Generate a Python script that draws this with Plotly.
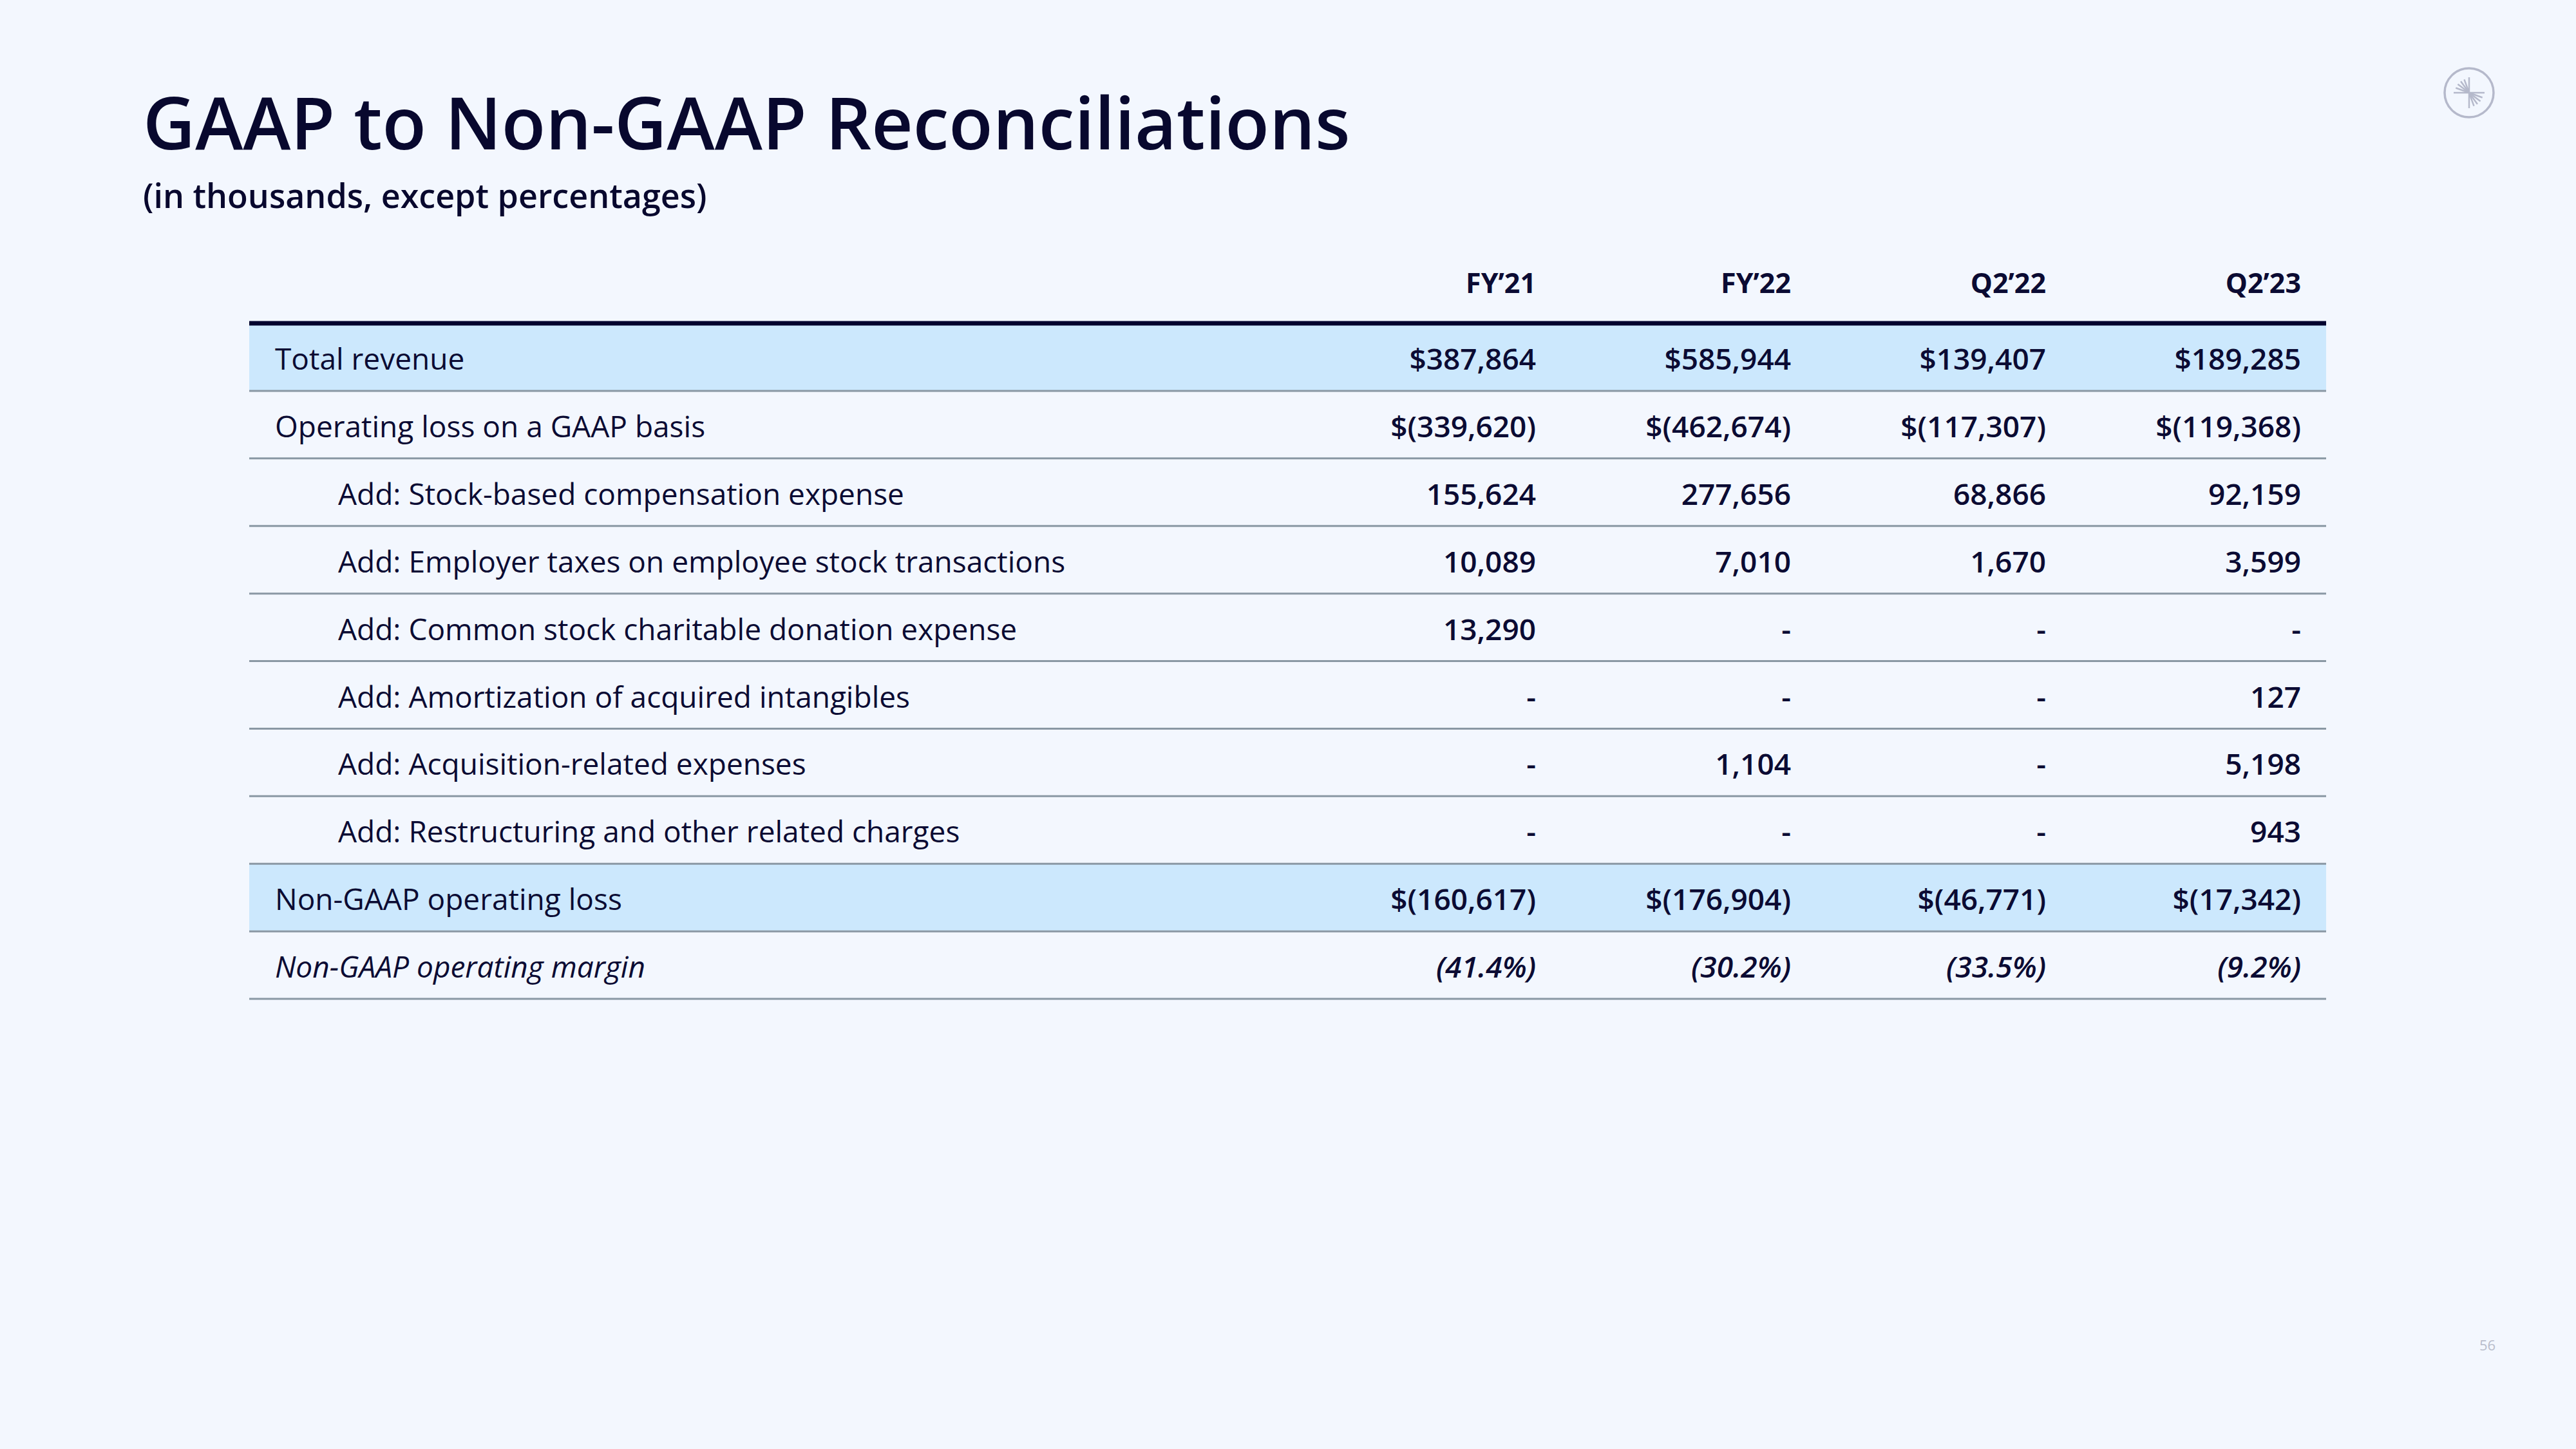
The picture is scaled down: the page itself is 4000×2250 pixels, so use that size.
import math
import plotly.graph_objects as go

# ---------------- data ----------------
columns = ["FY’21", "FY’22", "Q2’22", "Q2’23"]
labels = [
    "Total revenue",
    "Operating loss on a GAAP basis",
    "Add: Stock-based compensation expense",
    "Add: Employer taxes on employee stock transactions",
    "Add: Common stock charitable donation expense",
    "Add: Amortization of acquired intangibles",
    "Add: Acquisition-related expenses",
    "Add: Restructuring and other related charges",
    "Non-GAAP operating loss",
    "Non-GAAP operating margin",
]
fy21 = ["$387,864", "$(339,620)", "155,624", "10,089", "13,290", "-", "-", "-", "$(160,617)", "(41.4%)"]
fy22 = ["$585,944", "$(462,674)", "277,656", "7,010", "-", "-", "1,104", "-", "$(176,904)", "(30.2%)"]
q2_22 = ["$139,407", "$(117,307)", "68,866", "1,670", "-", "-", "-", "-", "$(46,771)", "(33.5%)"]
q2_23 = ["$189,285", "$(119,368)", "92,159", "3,599", "-", "127", "5,198", "943", "$(17,342)", "(9.2%)"]
series = [fy21, fy22, q2_22, q2_23]

title = "GAAP to Non-GAAP Reconciliations"
subtitle = "(in thousands, except percentages)"
page_number = "56"

# ---------------- style / layout ----------------
W, H = 4000, 2250
BG = "#F3F7FE"
TEXT = "#0B0B33"
HILITE = "#CCE8FD"
RULE = "#8A98A4"
DARK = "#03032E"
FONT = "Open Sans"

highlight_rows = {0, 8}
italic_rows = {9}

# x units: value column i (1..4) has its right edge at x=i
COL_PX0, COL_STEP = 2385.0, 396.0     # pixel of column 1, pixels per column
ROW_PX0, ROW_STEP = 554.5, 104.9      # pixel of row 1 centre, pixels per row
x_of = lambda p: 1 + (p - COL_PX0) / COL_STEP
y_of = lambda p: 1 + (p - ROW_PX0) / ROW_STEP

X_RANGE = [x_of(0), x_of(W)]
Y_RANGE = [y_of(H), y_of(0)]
TABLE_X0, TABLE_X1 = x_of(387), x_of(3612)
LABEL_X, INDENT_X = x_of(427), x_of(525)
HEADER_Y = y_of(444)
TEXT_DY = 8 / ROW_STEP

n = len(labels)
row_y = [i + 1 for i in range(n)]
text_y = [y + TEXT_DY for y in row_y]
label_x = [INDENT_X if lab.startswith("Add:") else LABEL_X for lab in labels]

fig = go.Figure()

# row labels
for italic in (False, True):
    idx = [i for i in range(n) if (i in italic_rows) == italic]
    fig.add_trace(go.Scatter(
        x=[label_x[i] for i in idx], y=[text_y[i] for i in idx],
        text=[labels[i] for i in idx], mode="text", textposition="middle right",
        textfont=dict(family=FONT, size=46, color=TEXT, weight=400,
                      style="italic" if italic else "normal"),
        hoverinfo="skip", showlegend=False, cliponaxis=False))

# values
for c, vals in enumerate(series):
    for italic in (False, True):
        idx = [i for i in range(n) if (i in italic_rows) == italic]
        fig.add_trace(go.Scatter(
            x=[c + 1] * len(idx), y=[text_y[i] for i in idx],
            text=[vals[i] for i in idx], mode="text", textposition="middle left",
            textfont=dict(family=FONT, size=46, color=TEXT, weight=600,
                          style="italic" if italic else "normal"),
            hoverinfo="skip", showlegend=False, cliponaxis=False))

# column headers
fig.add_trace(go.Scatter(
    x=[c + 1 for c in range(len(columns))], y=[HEADER_Y] * len(columns),
    text=columns, mode="text", textposition="middle left",
    textfont=dict(family=FONT, size=43, color=TEXT, weight=700),
    hoverinfo="skip", showlegend=False, cliponaxis=False))

shapes = []
for r in highlight_rows:
    shapes.append(dict(type="rect", xref="x", yref="y", x0=TABLE_X0, x1=TABLE_X1,
                       y0=row_y[r] - 0.5, y1=row_y[r] + 0.5,
                       fillcolor=HILITE, line=dict(width=0), layer="below"))
for r in range(n):
    shapes.append(dict(type="line", xref="x", yref="y", x0=TABLE_X0, x1=TABLE_X1,
                       y0=row_y[r] + 0.5, y1=row_y[r] + 0.5,
                       line=dict(color=RULE, width=3), layer="below"))
shapes.append(dict(type="line", xref="x", yref="y", x0=TABLE_X0, x1=TABLE_X1,
                   y0=row_y[0] - 0.5, y1=row_y[0] - 0.5,
                   line=dict(color=DARK, width=7), layer="below"))

# logo (decoration)
px = lambda p: p / W
py = lambda p: 1 - p / H
LC, LY, LR = 3834, 144, 38
LOGO = "#B5B9CB"
shapes.append(dict(type="circle", xref="paper", yref="paper",
                   x0=px(LC - LR), x1=px(LC + LR), y0=py(LY + LR), y1=py(LY - LR),
                   line=dict(color=LOGO, width=3.5)))
for ang, ln in [(90, 24), (-90, 24), (180, 24), (0, 24),
                (160, 22), (143, 22), (126, 22), (110, 22),
                (-20, 22), (-37, 22), (-54, 22), (-70, 22)]:
    a = math.radians(ang)
    shapes.append(dict(type="line", xref="paper", yref="paper",
                       x0=px(LC), y0=py(LY), x1=px(LC + ln * math.cos(a)), y1=py(LY - ln * math.sin(a)),
                       line=dict(color=LOGO, width=2.5)))

annotations = [
    dict(text=title, xref="paper", yref="paper", x=px(220), y=py(189), xanchor="left",
         yanchor="middle", showarrow=False,
         font=dict(family=FONT, size=112, color="#08082E", weight=600)),
    dict(text=subtitle, xref="paper", yref="paper", x=px(220), y=py(302), xanchor="left",
         yanchor="middle", showarrow=False,
         font=dict(family=FONT, size=52, color="#08082E", weight=600)),
    dict(text=page_number, xref="paper", yref="paper", x=px(3862), y=py(2088), xanchor="center",
         yanchor="middle", showarrow=False,
         font=dict(family=FONT, size=22, color="#B9BDCB")),
]

fig.update_layout(
    width=W, height=H, margin=dict(l=0, r=0, t=0, b=0),
    paper_bgcolor=BG, plot_bgcolor=BG,
    xaxis=dict(range=X_RANGE, visible=False, fixedrange=True),
    yaxis=dict(range=Y_RANGE, visible=False, fixedrange=True),
    shapes=shapes, annotations=annotations, showlegend=False,
)

fig.write_html("out.html", config={"displayModeBar": False},
               post_script="document.body.style.margin='0';document.body.style.background='%s';" % BG)
